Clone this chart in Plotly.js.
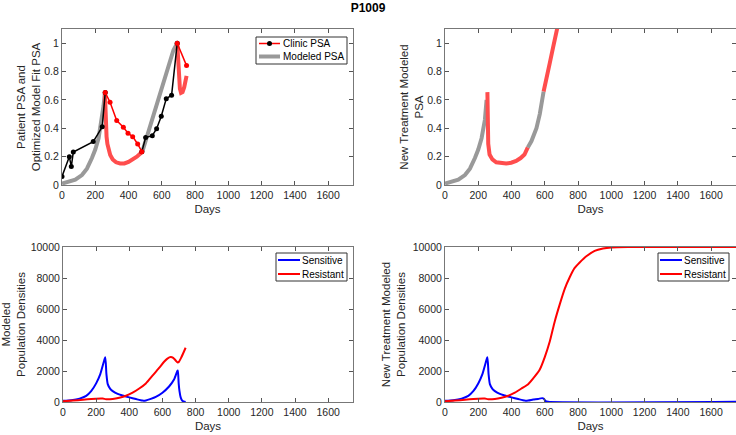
<!DOCTYPE html>
<html>
<head>
<meta charset="utf-8">
<script src="https://cdn.plot.ly/plotly-3.0.1.min.js"></script>
<style>html,body{margin:0;padding:0;background:#fff;}#chart{width:736px;height:435px;}</style>
</head>
<body>
<div id="chart"></div>
<script>
// ---------- Panel 1: clinic PSA (normalised) ----------
var clinicDays = [0, 44, 56, 68, 188, 242, 260, 289, 329, 369, 397, 425, 455, 480, 503, 543, 569, 597, 627, 659, 693, 749];
var clinicPSA  = [0.06, 0.20, 0.13, 0.233, 0.306, 0.41, 0.652, 0.584, 0.454, 0.407, 0.365, 0.341, 0.289, 0.235, 0.335, 0.348, 0.397, 0.485, 0.609, 0.633, 1.0, 0.842];
// index ranges [start, end] (inclusive) of off-treatment (black) and on-treatment (red) clinic segments
var clinicOff = [[0, 6], [13, 20]];
var clinicOn  = [[6, 13], [20, 21]];

// Modeled PSA fit: off-treatment (gray) and on-treatment (red) pieces
var fitOff1Days = [0, 40, 80, 120, 150, 180, 200, 220, 240, 250, 258];
var fitOff1PSA  = [0.01, 0.02, 0.037, 0.07, 0.115, 0.19, 0.25, 0.33, 0.46, 0.56, 0.652];
var fitOn1Days  = [258, 261, 264, 268, 273, 280, 290, 305, 325, 350, 375, 400, 425, 450, 483];
var fitOn1PSA   = [0.652, 0.52, 0.42, 0.34, 0.29, 0.25, 0.212, 0.18, 0.16, 0.152, 0.152, 0.163, 0.178, 0.2, 0.235];
var fitOff2Days = [483, 510, 550, 590, 630, 670, 693];
var fitOff2PSA  = [0.235, 0.34, 0.49, 0.645, 0.81, 0.95, 1.0];
var fitOn2Days  = [693, 698, 703, 709, 716, 725, 735, 749];
var fitOn2PSA   = [1.0, 0.88, 0.76, 0.68, 0.65, 0.655, 0.69, 0.77];

// ---------- Panel 2: new treatment modeled PSA ----------
var ntOff1Days = [0, 40, 80, 120, 150, 180, 200, 220, 240, 250];
var ntOff1PSA  = [0.01, 0.02, 0.037, 0.07, 0.115, 0.19, 0.25, 0.33, 0.46, 0.6];
var ntOn1Days  = [255, 256, 257, 260, 268, 285, 308, 338, 368, 398, 428, 455, 478, 498];
var ntOn1PSA   = [0.655, 0.5, 0.36, 0.29, 0.215, 0.18, 0.16, 0.153, 0.152, 0.157, 0.17, 0.19, 0.215, 0.265];
var ntOff2Days = [498, 520, 550, 570, 593];
var ntOff2PSA  = [0.265, 0.31, 0.40, 0.50, 0.659];
var ntOn2Days  = [593, 610, 630, 650, 673, 685];
var ntOn2PSA   = [0.659, 0.74, 0.859, 0.97, 1.094, 1.16];

// ---------- Panel 3: modeled population densities ----------
var popDays      = [0, 50, 100, 140, 170, 200, 225, 245, 255, 262, 270, 285, 300, 330, 360, 400, 440, 480, 500, 530, 560, 600, 640, 670, 690, 693, 698, 703, 710, 720, 740];
var sensitiveVal = [80, 120, 220, 400, 700, 1200, 1800, 2550, 2880, 1800, 1150, 850, 700, 520, 420, 300, 190, 90, 100, 200, 330, 600, 1000, 1450, 2000, 2040, 1200, 700, 300, 80, 0];
var resDays      = [0, 60, 120, 200, 240, 260, 300, 340, 380, 420, 460, 500, 540, 580, 610, 630, 650, 665, 680, 692, 700, 715, 740];
var resistantVal = [50, 90, 150, 215, 220, 180, 200, 280, 400, 600, 870, 1200, 1700, 2200, 2600, 2800, 2900, 2850, 2680, 2550, 2600, 2900, 3500];

// ---------- Panel 4: new treatment population densities ----------
var ntSensDays = [0, 50, 100, 140, 170, 200, 225, 245, 255, 262, 270, 285, 300, 330, 360, 400, 440, 480, 500, 530, 560, 585, 595, 605, 620, 1750];
var ntSensVal  = [80, 120, 220, 400, 700, 1200, 1800, 2550, 2880, 1800, 1150, 850, 700, 520, 420, 300, 190, 90, 100, 160, 200, 250, 200, 60, 10, 10];
var ntResDays  = [0, 60, 120, 200, 240, 260, 300, 340, 380, 420, 460, 500, 540, 570, 600, 630, 660, 690, 720, 750, 780, 810, 850, 900, 950, 1000, 1100, 1750];
var ntResVal   = [50, 90, 150, 215, 220, 180, 200, 280, 400, 600, 870, 1150, 1650, 2100, 2900, 3900, 5200, 6300, 7300, 8050, 8650, 9000, 9400, 9750, 9900, 9970, 10000, 10000];

// legend labels
var psaLegendLabels = ['Clinic PSA', 'Modeled PSA'];
var popLegendLabels = ['Sensitive', 'Resistant'];

var GRAY = '#999999', LRED = '#ff4d4d', RED = '#ff0000', BLUE = '#0000ff';
var FONT = 'Liberation Sans, Arial, Helvetica, sans-serif';

function sl(a, r) { return a.slice(r[0], r[1] + 1); }

var traces = [];
// Panel 1 model
[[fitOff1Days, fitOff1PSA, GRAY], [fitOn1Days, fitOn1PSA, LRED], [fitOff2Days, fitOff2PSA, GRAY], [fitOn2Days, fitOn2PSA, LRED]].forEach(function (s) {
  traces.push({x: s[0], y: s[1], type: 'scatter', mode: 'lines', line: {color: s[2], width: 4}, xaxis: 'x', yaxis: 'y', showlegend: false});
});
// Panel 1 clinic
clinicOff.forEach(function (r) {
  traces.push({x: sl(clinicDays, r), y: sl(clinicPSA, r), type: 'scatter', mode: 'lines+markers',
    line: {color: '#000', width: 1.5}, marker: {color: '#000', size: 5}, xaxis: 'x', yaxis: 'y', showlegend: false});
});
clinicOn.forEach(function (r) {
  traces.push({x: sl(clinicDays, r), y: sl(clinicPSA, r), type: 'scatter', mode: 'lines+markers',
    line: {color: RED, width: 1.5}, marker: {color: RED, size: 5}, xaxis: 'x', yaxis: 'y', showlegend: false});
});

// Panel 2
[[ntOff1Days, ntOff1PSA, GRAY], [ntOn1Days, ntOn1PSA, LRED], [ntOff2Days, ntOff2PSA, GRAY], [ntOn2Days, ntOn2PSA, LRED]].forEach(function (s) {
  traces.push({x: s[0], y: s[1], type: 'scatter', mode: 'lines', line: {color: s[2], width: 4}, xaxis: 'x2', yaxis: 'y2', showlegend: false});
});

// Panels 3 & 4
var SPL = {shape: 'spline', smoothing: 0.6};
traces.push({x: popDays, y: sensitiveVal, type: 'scatter', mode: 'lines', name: popLegendLabels[0], line: Object.assign({color: BLUE, width: 2}, SPL), xaxis: 'x3', yaxis: 'y3', showlegend: false});
traces.push({x: resDays, y: resistantVal, type: 'scatter', mode: 'lines', name: popLegendLabels[1], line: Object.assign({color: RED, width: 2}, SPL), xaxis: 'x3', yaxis: 'y3', showlegend: false});
traces.push({x: ntSensDays, y: ntSensVal, type: 'scatter', mode: 'lines', name: popLegendLabels[0], line: Object.assign({color: BLUE, width: 2}, SPL), xaxis: 'x4', yaxis: 'y4', showlegend: false});
traces.push({x: ntResDays, y: ntResVal, type: 'scatter', mode: 'lines', name: popLegendLabels[1], line: Object.assign({color: RED, width: 2}, SPL), xaxis: 'x4', yaxis: 'y4', showlegend: false});

var W = 736, H = 435;
function px(v) { return v / W; }
function py(v) { return 1 - v / H; }
function xd(a, b) { return [a / W, b / W]; }
function yd(top, bot) { return [1 - bot / H, 1 - top / H]; }

function xax(dom, anchor) {
  return {domain: dom, anchor: anchor, range: [0, 1750], dtick: 200, tick0: 0, ticks: 'inside', ticklen: 4,
    tickcolor: '#555', showline: true, linecolor: '#777', linewidth: 1, mirror: 'ticks', showgrid: false, zeroline: false,
    tickfont: {family: FONT, size: 10.5, color: '#262626'},
    title: {text: 'Days', font: {family: FONT, size: 11.5, color: '#262626'}, standoff: 5}};
}
function yax(dom, anchor, range, dtick, fmt, title, standoff) {
  return {domain: dom, anchor: anchor, range: range, dtick: dtick, tick0: 0, ticks: 'inside', ticklen: 4,
    tickcolor: '#555', showline: true, linecolor: '#777', linewidth: 1, mirror: 'ticks', showgrid: false, zeroline: false,
    tickformat: fmt,
    tickfont: {family: FONT, size: 10.5, color: '#262626'},
    title: {text: title, font: {family: FONT, size: 11.5, color: '#262626'}, standoff: standoff}};
}

// hand-built compact legends (boxes in pixel positions)
var shapes = [], annotations = [];
function legendBox(x0, y0, x1, y1, rows) {
  shapes.push({type: 'rect', xref: 'paper', yref: 'paper', x0: px(x0), x1: px(x1), y0: py(y1), y1: py(y0),
    line: {color: '#333', width: 1}, fillcolor: '#fff', layer: 'above'});
  rows.forEach(function (r) {
    shapes.push({type: 'line', xref: 'paper', yref: 'paper', x0: px(r.lx0), x1: px(r.lx1), y0: py(r.y), y1: py(r.y),
      line: {color: r.color, width: r.width}, layer: 'above'});
    if (r.marker) {
      var cx = (r.lx0 + r.lx1) / 2;
      shapes.push({type: 'circle', xref: 'paper', yref: 'paper', x0: px(cx - 2.5), x1: px(cx + 2.5), y0: py(r.y + 2.5), y1: py(r.y - 2.5),
        line: {color: r.marker, width: 0}, fillcolor: r.marker, layer: 'above'});
    }
    annotations.push({xref: 'paper', yref: 'paper', x: px(r.tx), y: py(r.y), xanchor: 'left', yanchor: 'middle', showarrow: false,
      text: r.text, font: {family: FONT, size: 10, color: '#000'}});
  });
}
legendBox(256, 37, 347, 64, [
  {y: 43.5, lx0: 259, lx1: 280, color: RED, width: 1.5, marker: '#000', tx: 280.5, text: psaLegendLabels[0]},
  {y: 56.5, lx0: 259, lx1: 280, color: GRAY, width: 4, tx: 280.5, text: psaLegendLabels[1]}
]);
legendBox(276, 253, 347, 281, [
  {y: 260, lx0: 278, lx1: 300, color: BLUE, width: 2, tx: 299.5, text: popLegendLabels[0]},
  {y: 274, lx0: 278, lx1: 300, color: RED, width: 2, tx: 299.5, text: popLegendLabels[1]}
]);
legendBox(658, 253, 729, 281, [
  {y: 260, lx0: 660, lx1: 682, color: BLUE, width: 2, tx: 681.5, text: popLegendLabels[0]},
  {y: 274, lx0: 660, lx1: 682, color: RED, width: 2, tx: 681.5, text: popLegendLabels[1]}
]);

var layout = {
  width: W, height: H,
  margin: {l: 0, r: 0, t: 0, b: 0},
  paper_bgcolor: '#fff', plot_bgcolor: '#fff',
  showlegend: false,
  title: {text: '<b>P1009</b>', font: {family: FONT, size: 12, color: '#000'}, x: 0.5, xanchor: 'center', y: 1 - 7.5 / H, yanchor: 'middle'},
  xaxis: xax(xd(62, 353), 'y'),
  yaxis: yax(yd(29, 185), 'x', [0, 1.1], 0.2, '', 'Patient PSA and<br>Optimized Model Fit PSA', 1),
  xaxis2: xax(xd(445, 736), 'y2'),
  yaxis2: yax(yd(29, 185), 'x2', [0, 1.1], 0.2, '', 'New Treatment Modeled<br>PSA', 1),
  xaxis3: xax(xd(63, 353), 'y3'),
  yaxis3: yax(yd(247, 402), 'x3', [0, 10000], 2000, 'd', 'Modeled<br>Population Densities', 4),
  xaxis4: xax(xd(445, 736), 'y4'),
  yaxis4: yax(yd(247, 402), 'x4', [0, 10000], 2000, 'd', 'New Treatment Modeled<br>Population Densities', 4),
  shapes: shapes,
  annotations: annotations
};

Plotly.newPlot('chart', traces, layout, {staticPlot: true, displayModeBar: false});
</script>
</body>
</html>
